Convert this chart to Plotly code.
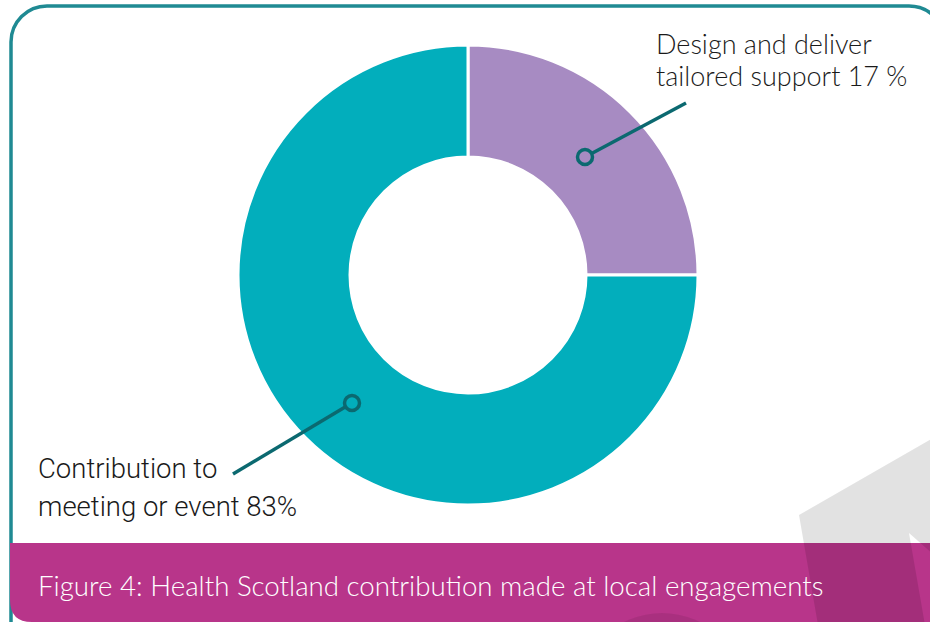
import plotly.graph_objects as go

W, H = 930, 622

# ---- data ----
categories = ["Design and deliver tailored support", "Contribution to meeting or event"]
slice_sizes = [25, 75]          # arc sizes as drawn in the reference
label_pct = ["17 %", "83%"]     # percentages printed on the labels
colors = ["#a78bc2", "#02aebc"]

label_lines = [
    ["Design and deliver", "tailored support " + label_pct[0]],
    ["Contribution to", "meeting or event " + label_pct[1]],
]
caption = "Figure 4: Health Scotland contribution made at local engagements"


def px(x):
    return x / W


def py(y):
    return 1 - y / H


def path(points_cmds):
    out = []
    for cmd, *pts in points_cmds:
        coords = " ".join(f"{px(pts[i]):.5f},{py(pts[i+1]):.5f}" for i in range(0, len(pts), 2))
        out.append(f"{cmd}{coords}")
    return " ".join(out) + " Z"


# pie geometry (pixels)
cx, cy, R = 468, 275, 230
hole = 118 / 230

fig = go.Figure(go.Pie(
    labels=categories,
    values=slice_sizes,
    marker=dict(colors=colors, line=dict(color="white", width=3)),
    hole=hole,
    sort=False,
    direction="clockwise",
    rotation=0,
    textinfo="none",
    hoverinfo="label",
    showlegend=False,
    domain=dict(x=[px(cx - R), px(cx + R)], y=[py(cy + R), py(cy - R)]),
))

shapes = []
# rounded teal frame
L, T, Rr, B, rad = 11, 6, 945, 700, 36
k = 0.5523 * rad
frame = path([
    ("M", L, B),
    ("L", L, T + rad),
    ("C", L, T + rad - k, L + rad - k, T, L + rad, T),
    ("L", Rr - rad, T),
    ("C", Rr - rad + k, T, Rr, T + rad - k, Rr, T + rad),
    ("L", Rr, B),
]).replace(" Z", "")
shapes.append(dict(type="path", path=frame, xref="paper", yref="paper",
                   line=dict(color="#1f8a93", width=3.5), fillcolor="rgba(0,0,0,0)"))

# magenta band
bt, bl, br2 = 543, 10, 22
band = path([
    ("M", bl, bt),
    ("L", 940, bt),
    ("L", 940, 640),
    ("L", bl + br2, 622),
    ("Q", bl, 622, bl, 622 - br2),
])
shapes.append(dict(type="path", path=band, xref="paper", yref="paper",
                   line=dict(width=0), fillcolor="#b8358a"))

# darker bump at bottom
shapes.append(dict(type="circle", xref="paper", yref="paper",
                   x0=px(662 - 85), x1=px(662 + 85), y0=py(698 + 85), y1=py(698 - 85),
                   line=dict(width=0), fillcolor="rgba(0,0,0,0.08)"))

# grey translucent decoration
grey = path([
    ("M", 799, 515),
    ("L", 935, 437),
    ("L", 935, 556),
    ("L", 909, 533),
    ("L", 925, 625),
    ("L", 818, 625),
])
shapes.append(dict(type="path", path=grey, xref="paper", yref="paper",
                   line=dict(width=0), fillcolor="rgba(0,0,0,0.115)"))

# callouts
lc = "#0b6970"
for (ccx, ccy), (ex, ey) in [((585, 157), (686, 103)), ((352, 403), (233, 474))]:
    r = 7.5
    dx, dy = ex - ccx, ey - ccy
    n = (dx ** 2 + dy ** 2) ** 0.5
    sx, sy = ccx + r * dx / n, ccy + r * dy / n
    shapes.append(dict(type="line", xref="paper", yref="paper",
                       x0=px(sx), y0=py(sy), x1=px(ex), y1=py(ey),
                       line=dict(color=lc, width=3.5)))
    shapes.append(dict(type="circle", xref="paper", yref="paper",
                       x0=px(ccx - r), x1=px(ccx + r), y0=py(ccy + r), y1=py(ccy - r),
                       line=dict(color=lc, width=3.5), fillcolor="rgba(0,0,0,0)"))

annotations = []
top_font = dict(family="Lato, sans-serif", size=27, color="#1a1a1a", weight=300)
for i, (t, yc) in enumerate(zip(label_lines[0], [44, 75])):
    annotations.append(dict(text=t, x=px(654), y=py(yc), xref="paper", yref="paper",
                            xanchor="left", yanchor="middle", showarrow=False, font=top_font))
low_font = dict(family="Roboto, sans-serif", size=27.5, color="#1a1a1a", weight=300)
for i, (t, yc) in enumerate(zip(label_lines[1], [468, 506])):
    annotations.append(dict(text=t, x=px(36), y=py(yc), xref="paper", yref="paper",
                            xanchor="left", yanchor="middle", showarrow=False, font=low_font))
annotations.append(dict(text=caption, x=px(36), y=py(585), xref="paper", yref="paper",
                        xanchor="left", yanchor="middle", showarrow=False,
                        font=dict(family="Lato, sans-serif", size=27.7, color="white", weight=300)))

fig.update_layout(
    width=W, height=H,
    margin=dict(l=0, r=0, t=0, b=0),
    paper_bgcolor="white",
    plot_bgcolor="white",
    shapes=shapes,
    annotations=annotations,
)

fig.write_html("out.html")
